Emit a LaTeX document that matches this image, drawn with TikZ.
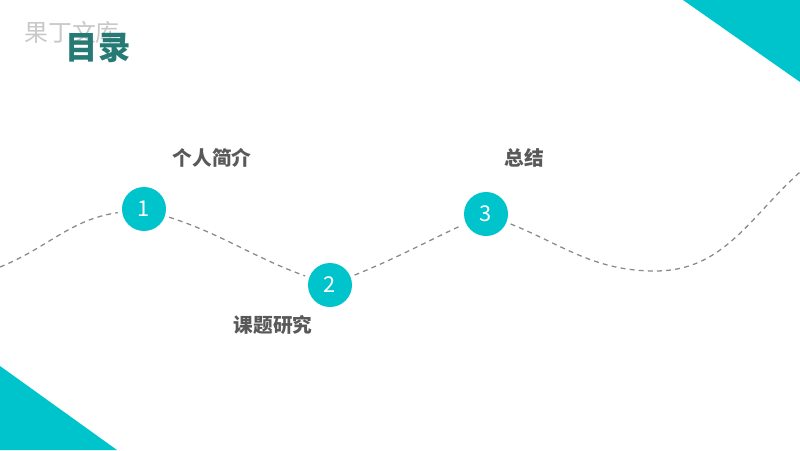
\documentclass[tikz,border=0pt]{standalone}
\usepackage{fontspec}
\usepackage{tikz}
\usetikzlibrary{positioning}
\newfontfamily\cjk{Noto Sans CJK SC}
\definecolor{tealc}{HTML}{00C4CC}
\definecolor{titlec}{HTML}{267A76}
\definecolor{labelc}{HTML}{595959}
\definecolor{markc}{HTML}{C8C8C8}
\definecolor{wavec}{HTML}{8A8A8A}

\begin{document}
\begin{tikzpicture}[x=0.025cm,y=0.025cm,
  stepdot/.style={circle,fill=tealc,text=white,minimum size=1.1cm,inner sep=0pt,font=\cjk\fontsize{15.5}{15.5}\selectfont},
  steplabel/.style={text=labelc,font=\cjk\bfseries\fontsize{14}{16}\selectfont},
  wave/.style={draw=wavec,line width=0.9pt,dash pattern=on 3.5pt off 3pt,shorten <=3pt,shorten >=3pt}]
\useasboundingbox (0,0) rectangle (800,450);
% corner triangles
\fill[tealc] (683,450) -- (800,450) -- (800,368) -- cycle;
\fill[tealc] (0,84) -- (0,0) -- (117,0) -- cycle;
% title
\node[text=markc,font=\cjk\fontsize{17}{17}\selectfont] (mark) at (72,418) {果丁文库};
\node[text=titlec,font=\cjk\bfseries\fontsize{23}{23}\selectfont] (title) at (98,402) {目录};
% wave points
\coordinate (w0) at (0,183);
\coordinate (wlow) at (655,179);
\coordinate (wend) at (800,278);
\node[stepdot] (s1) at (144,241) {1};
\node[stepdot] (s2) at (330,165) {2};
\node[stepdot] (s3) at (486,236) {3};
% dashed wave
\draw[wave,shorten <=0pt] (w0) to[out=22,in=188] (s1);
\draw[wave] (s1) to[out=-18,in=160] (s2);
\draw[wave] (s2) to[out=22,in=205] (s3);
\draw[wave,shorten >=0pt] (s3) to[out=-22,in=180] (wlow) to[out=0,in=222] (wend);
% labels
\node[steplabel] (l1) at (212,292) {个人简介};
\node[steplabel] (l2) at (273,125) {课题研究};
\node[steplabel] (l3) at (524,292) {总结};
\end{tikzpicture}
\end{document}
